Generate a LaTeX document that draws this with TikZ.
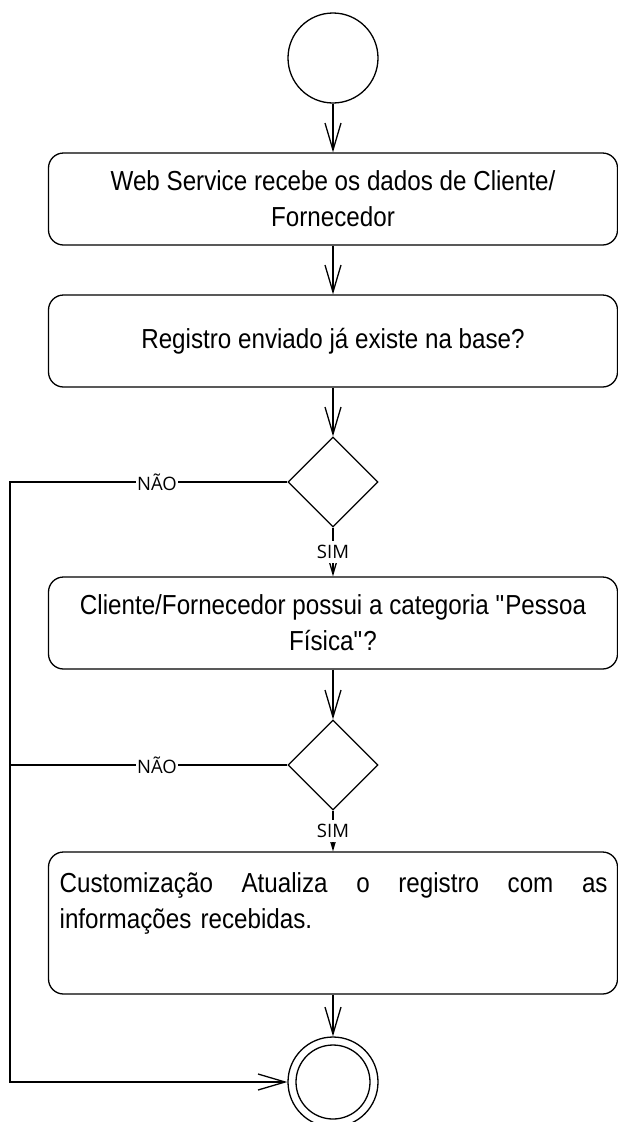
\documentclass[tikz,border=0pt]{standalone}
\usepackage{fontspec}
\setmainfont{Liberation Sans}[FakeStretch=0.88]
\newfontfamily\lblfont{Open Sans}
\usetikzlibrary{arrows.meta,shapes.geometric}
\begin{document}
\begin{tikzpicture}[x=1pt,y=-1pt,line width=1.3pt,
  flow/.style={-{Straight Barb[length=27pt,width=16pt]}},
  act/.style={draw,rounded corners=15pt,minimum width=569pt,inner sep=0pt,align=center,font=\fontsize{27.5}{36}\selectfont},
  dec/.style={draw,diamond,minimum width=90pt,minimum height=90pt,inner sep=0pt},
  state/.style={draw,circle,minimum size=90pt,inner sep=0pt},
  lbl/.style={font=\lblfont\fontsize{18.5}{20}\selectfont,fill=white,inner xsep=1pt,inner ysep=4.5pt}]
\useasboundingbox (0,0) rectangle (618,1122);
\node[state] (start) at (333,58) {};
\node[act,minimum height=92pt] (b1) at (333,199) {Web Service recebe os dados de Cliente/\\Fornecedor};
\node[act,minimum height=92pt] (b2) at (333,341) {Registro enviado já existe na base?};
\node[dec] (d1) at (333,482) {};
\node[act,minimum height=92pt] (b3) at (333,623) {Cliente/Fornecedor possui a categoria \textquotedbl Pessoa\\Física\textquotedbl ?};
\node[dec] (d2) at (333,765) {};
\node[act,minimum height=142pt] (b4) at (333,923) {};
\node[anchor=north west,inner sep=0pt,text width=548pt,align=left,font=\fontsize{27.5}{36}\selectfont] (t4) at (59,872)
  {Customização\hfill Atualiza\hfill o\hfill registro\hfill com\hfill as\\informações recebidas.};
\node[state] (end) at (333,1082) {};
\node[draw,circle,minimum size=74pt,inner sep=0pt] (endin) at (end) {};
\coordinate (l1) at (10,482);
\coordinate (l2) at (10,765);
\coordinate (l3) at (10,1082);
\draw[flow] (start) -- (b1);
\draw[flow] (b1) -- (b2);
\draw[flow] (b2) -- (d1);
\draw[flow] (d1) -- (b3);
\draw[flow] (b3) -- (d2);
\draw[flow] (d2) -- (b4);
\draw[flow] (b4) -- (end);
\draw[flow] (d1.west) -- (l1) -- (l3) -- (end.west);
\draw (d2.west) -- (l2);
\path (d1) -- node[lbl]{SIM} (b3);
\path (d2) -- node[lbl]{SIM} (b4);
\path (d1.west) -- node[lbl,pos=0.47]{NÃO} (l1);
\path (d2.west) -- node[lbl,pos=0.47]{NÃO} (l2);
\end{tikzpicture}
\end{document}
